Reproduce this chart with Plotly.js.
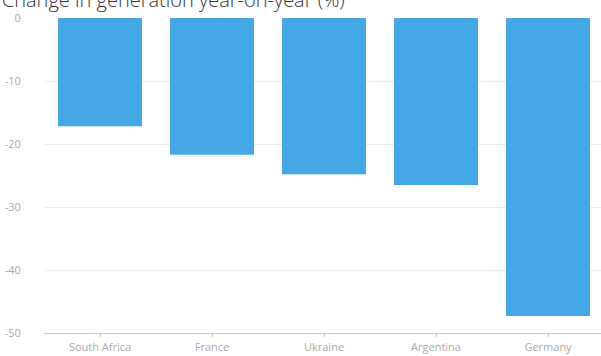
<!DOCTYPE html>
<html><head><meta charset="utf-8">
<script src="https://cdn.plot.ly/plotly-3.0.1.min.js"></script>
<style>html,body{margin:0;padding:0;background:#fff;}#chart{width:601px;height:356px;}</style>
</head><body><div id="chart"></div>
<script>
const countries = ["South Africa", "France", "Ukraine", "Argentina", "Germany"];
const changePct = [-17.2, -21.7, -24.8, -26.5, -47.3];
const yTicks = [0, -10, -20, -30, -40, -50];

Plotly.newPlot("chart", [{
  type: "bar",
  x: countries,
  y: changePct,
  marker: {color: "#45a8e6"},
  hoverinfo: "x+y"
}], {
  width: 601, height: 356,
  margin: {l: 44, r: 0, t: 18, b: 23},
  paper_bgcolor: "#fff", plot_bgcolor: "#fff",
  bargap: 0.25,
  showlegend: false,
  font: {family: "Open Sans, sans-serif", color: "#aaa", size: 11},
  title: {text: "Change in generation year-on-year (%)", x: 0.003, xref: "container", xanchor: "left",
          y: 1, yref: "container", yanchor: "top", pad: {t: -7, l: 0},
          font: {family: "Open Sans, sans-serif", size: 20, color: "#333", weight: 300}},
  xaxis: {range: [-0.5, 4.473], showgrid: false, showline: true, linecolor: "#ccc", linewidth: 1,
          ticks: "outside", ticklen: 3, tickcolor: "#ccc", ticklabelstandoff: 1,
          tickfont: {size: 11, color: "#aaa"}},
  yaxis: {range: [-50, 0], tickvals: yTicks, ticktext: yTicks.map(String), showgrid: true, gridcolor: "#eee",
          zeroline: false, showline: false, ticks: "outside", ticklen: 6, tickcolor: "#fff",
          ticklabelstandoff: 14, tickfont: {size: 11, color: "#aaa"}}
}, {displayModeBar: false, staticPlot: true});
</script></body></html>
